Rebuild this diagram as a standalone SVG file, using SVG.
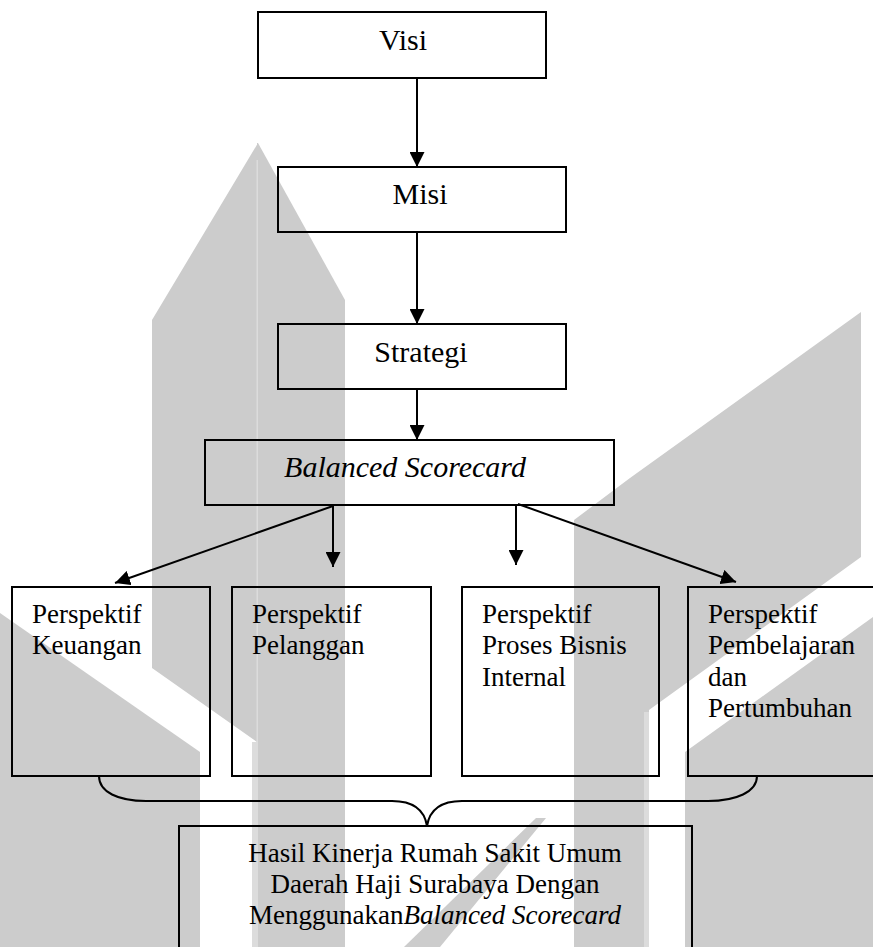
<svg xmlns="http://www.w3.org/2000/svg" width="873" height="947" viewBox="0 0 873 947">
<style>
.wm{fill:#cccccc;stroke:none}
.wl{fill:#dcdcdc;stroke:none}
.box{fill:none;stroke:#000;stroke-width:2}
.conn{fill:none;stroke:#000;stroke-width:2}
.brace{fill:none;stroke:#000;stroke-width:2}
text{font-family:"Liberation Serif","Times New Roman",serif;fill:#000}
.big{font-size:30px}
.med{font-size:27px}
.it{font-style:italic}
</style>
<defs>
<marker id="ah" viewBox="0 0 10 10" refX="10" refY="5" markerWidth="15" markerHeight="15" markerUnits="userSpaceOnUse" orient="auto">
<path d="M0,0 L10,5 L0,10 z" fill="#000"/>
</marker>
</defs>
<rect x="0" y="0" width="873" height="947" fill="#fff"/>
<g id="watermark">
<polygon class="wm" points="258,143 152,320 152,668 257,742 257,143"/>
<polygon class="wm" points="258,143 345,300 345,947 257,947 257,143"/>
<rect class="wl" x="252" y="742" width="6" height="205"/>
<rect class="wl" x="256.5" y="160" width="1.5" height="582"/>
<polygon class="wm" points="0,613 200,752 200,947 0,947"/>
<polygon class="wm" points="861,312 861,557 649,710 649,947 574,947 574,520 630,478"/>
<rect class="wl" x="644" y="712" width="5" height="235"/>
<polygon class="wm" points="873,617 685,752 685,947 873,947"/>
<polygon class="wm" points="536,818 546,818 440,947 404,947"/>
</g>
<g id="connectors">
<line class="conn" x1="417" y1="78" x2="417" y2="167" marker-end="url(#ah)"/>
<line class="conn" x1="417" y1="232" x2="417" y2="324" marker-end="url(#ah)"/>
<line class="conn" x1="417" y1="389" x2="417" y2="440" marker-end="url(#ah)"/>
<line class="conn" x1="333" y1="506" x2="115" y2="583" marker-end="url(#ah)"/>
<line class="conn" x1="333" y1="506" x2="333" y2="567" marker-end="url(#ah)"/>
<line class="conn" x1="516" y1="505" x2="516" y2="565" marker-end="url(#ah)"/>
<line class="conn" x1="518" y1="504" x2="736" y2="582" marker-end="url(#ah)"/>
<path class="brace" d="M99,776 C99,792 118,801 146,801 L392,801 Q423,801 427,826 Q431,801 462,801 L708,801 C736,801 757,792 757,776"/>
</g>
<g id="visi">
<rect class="box" x="258" y="12" width="288" height="66"/>
<text class="big" x="403" y="50" text-anchor="middle">Visi</text>
</g>
<g id="misi">
<rect class="box" x="278" y="167" width="288" height="65"/>
<text class="big" x="420" y="204" text-anchor="middle">Misi</text>
</g>
<g id="strategi">
<rect class="box" x="278" y="324" width="288" height="65"/>
<text class="big" x="421" y="362" text-anchor="middle">Strategi</text>
</g>
<g id="bsc">
<rect class="box" x="205" y="440" width="409" height="65"/>
<text class="big it" x="405" y="477" text-anchor="middle">Balanced Scorecard</text>
</g>
<g id="keuangan">
<rect class="box" x="12" y="587" width="198" height="189"/>
<text class="med" x="32" y="623">Perspektif</text>
<text class="med" x="32" y="654">Keuangan</text>
</g>
<g id="pelanggan">
<rect class="box" x="232" y="587" width="199" height="189"/>
<text class="med" x="252" y="623">Perspektif</text>
<text class="med" x="252" y="654">Pelanggan</text>
</g>
<g id="proses">
<rect class="box" x="462" y="587" width="197" height="189"/>
<text class="med" x="482" y="623">Perspektif</text>
<text class="med" x="482" y="654">Proses Bisnis</text>
<text class="med" x="482" y="686">Internal</text>
</g>
<g id="pembelajaran">
<rect class="box" x="688" y="587" width="200" height="189"/>
<text class="med" x="708" y="623">Perspektif</text>
<text class="med" x="708" y="654">Pembelajaran</text>
<text class="med" x="708" y="686">dan</text>
<text class="med" x="708" y="717">Pertumbuhan</text>
</g>
<g id="hasil">
<rect class="box" x="179" y="826" width="513" height="140"/>
<text class="med" x="435" y="862" text-anchor="middle">Hasil Kinerja Rumah Sakit Umum</text>
<text class="med" x="435" y="893" text-anchor="middle">Daerah Haji Surabaya Dengan</text>
<text class="med" x="435" y="924" text-anchor="middle">Menggunakan<tspan class="it">Balanced Scorecard</tspan></text>
</g>
</svg>
